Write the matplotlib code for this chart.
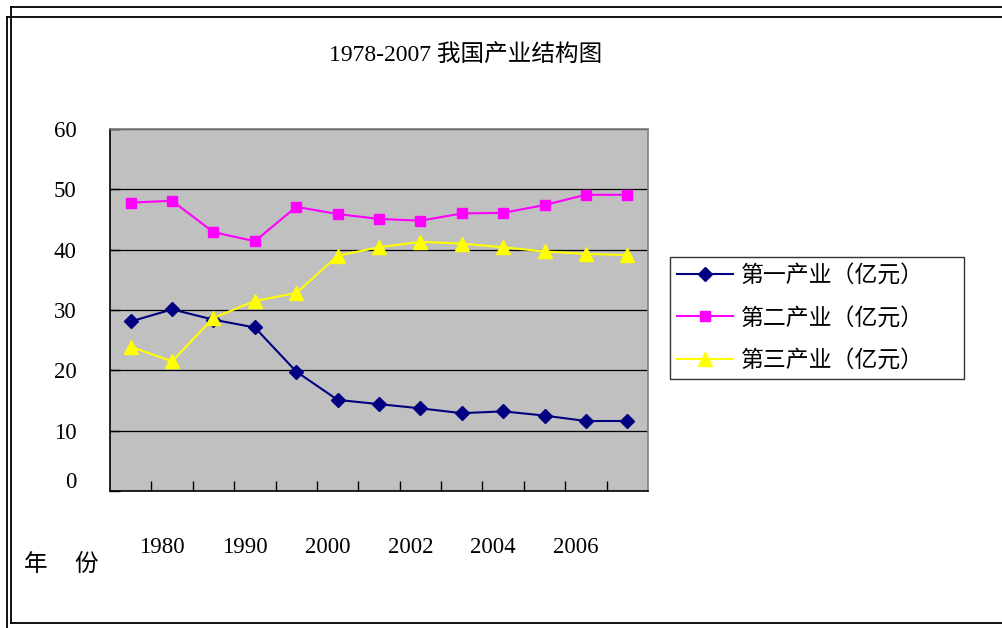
import numpy as np
import matplotlib.pyplot as plt
from matplotlib.lines import Line2D
from matplotlib.transforms import ScaledTranslation

plt.rcParams['font.family'] = ['Liberation Serif', 'Noto Sans CJK SC']

# 1978-2007 industry structure (share, %)
years = ['1978', '1980', '1985', '1990', '1995', '2000', '2001',
         '2002', '2003', '2004', '2005', '2006', '2007']
primary = [28.1, 30.1, 28.4, 27.1, 19.8, 15.1, 14.4, 13.7, 12.9, 13.2, 12.5, 11.6, 11.6]
secondary = [47.8, 48.1, 42.9, 41.4, 47.1, 45.9, 45.1, 44.8, 46.0, 46.1, 47.4, 49.1, 49.1]
tertiary = [23.9, 21.5, 28.7, 31.5, 32.8, 39.0, 40.4, 41.3, 41.0, 40.4, 39.7, 39.3, 39.1]
labels = ['第一产业（亿元）', '第二产业（亿元）', '第三产业（亿元）']

W, H = 1003, 628
fig = plt.figure(figsize=(W / 100, H / 100), dpi=100)
ax = fig.add_axes([110 / W, 1 - 491 / H, 538 / W, 362 / H])

x = np.arange(len(years))
ax.set_facecolor('#c0c0c0')
ax.plot(x, primary, color='#000080', marker='D', markersize=7, lw=1.5, label=labels[0])
ax.plot(x, secondary, color='#ff00ff', marker='s', markersize=7.5, lw=1.5, label=labels[1])
ax.plot(x, tertiary, color='#ffff00', marker='^', markersize=9.5, lw=1.5, label=labels[2])

ax.set_xlim(-0.5, len(years) - 0.5)
ax.set_ylim(0, 60)
ax.set_yticks(range(0, 61, 10))
ax.yaxis.grid(True, color='black', lw=0.9)
ax.set_axisbelow(True)

# tick marks between categories, year labels on every other category
ax.set_xticks(np.arange(0.5, len(years) - 0.5, 1))
ax.set_xticks(x[1::2], labels=years[1::2], minor=True)
ax.tick_params(axis='x', which='major', direction='in', length=7, width=1,
               labelbottom=False)
ax.tick_params(axis='x', which='minor', length=0, pad=33, labelsize=16.5)
for lab in ax.get_xticklabels(minor=True):
    lab.set_transform(lab.get_transform() + ScaledTranslation(-10 / 100, 0, fig.dpi_scale_trans))
ax.tick_params(axis='y', direction='in', length=7, width=1, pad=24, labelsize=16.5)
zero = ax.get_yticklabels()[0]
zero.set_transform(zero.get_transform() + ScaledTranslation(0, 11 / 100, fig.dpi_scale_trans))

for side in ['left', 'bottom']:
    ax.spines[side].set_color('black')
    ax.spines[side].set_linewidth(1.2)
for side in ['top', 'right']:
    ax.spines[side].set_color('#808080')
    ax.spines[side].set_linewidth(1.2)

leg = ax.legend(loc='upper left', bbox_to_anchor=(670 / W, 1 - 383 / H, 294 / W, 126 / H),
                bbox_transform=fig.transFigure, mode='expand', fancybox=False,
                frameon=True, edgecolor='black', borderaxespad=0, handlelength=2.45,
                handletextpad=0.35, labelspacing=0.85, borderpad=0.3,
                prop={'family': ['Noto Sans CJK SC'], 'size': 16.5})
leg.get_frame().set_linewidth(1)

fig.text(466 / W, 1 - 55 / H, '1978-2007 我国产业结构图', ha='center', va='center', fontsize=17)
fig.text(36 / W, 1 - 565 / H, '年', ha='center', va='center', fontsize=17)
fig.text(86 / W, 1 - 565 / H, '份', ha='center', va='center', fontsize=17)

# double frame around the chart
def hline(y, x0, x1):
    fig.add_artist(Line2D([x0 / W, x1 / W], [1 - y / H, 1 - y / H], color='black', lw=1.3))

def vline(x0, y0, y1):
    fig.add_artist(Line2D([x0 / W, x0 / W], [1 - y0 / H, 1 - y1 / H], color='black', lw=1.3))

hline(7, 11, W)
vline(11, 7, 623)
hline(623, 11, W)
hline(17, 7, W)
vline(7, 17, H)

fig.savefig('out.png', dpi=100)
